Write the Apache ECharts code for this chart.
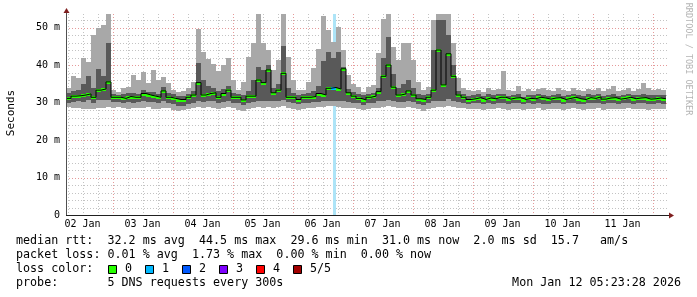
<!DOCTYPE html>
<html><head><meta charset="utf-8">
<script src="https://cdn.jsdelivr.net/npm/echarts@6/dist/echarts.min.js"></script>
<style>html,body{margin:0;padding:0;background:#fff}#c{width:697px;height:297px}</style>
</head><body><div id="c"></div>
<script>
// ---- axis / tick labels ----
const dayLabels = ['02 Jan','03 Jan','04 Jan','05 Jan','06 Jan','07 Jan','08 Jan','09 Jan','10 Jan','11 Jan'];
const dayLabelHours = [12,36,60,84,108,132,156,180,204,228];
const yTicks = [0,10,20,30,40,50];
const startHour = 5.4, stepHours = 2, endHour = 245.4, yMax = 53.6;

// ---- smoke data (ms), one column per 2 hours ----
const hiArr = [34.0,37.2,36.5,41.8,40.9,48.0,50.0,50.7,53.6,33.3,
  32.9,33.8,34.2,37.3,36.0,38.2,35.1,38.7,36.0,36.9,
  35.1,33.3,32.9,33.0,33.8,35.6,49.5,43.5,41.5,40.4,
  38.5,40.0,41.8,36.0,33.3,35.6,42.2,45.8,53.6,45.8,
  44.0,38.7,41.3,53.6,42.2,36.0,33.3,33.3,35.6,39.1,
  44.4,53.0,49.3,46.2,50.2,44.0,37.3,35.0,34.2,32.9,
  34.2,34.7,43.1,52.4,53.6,44.9,41.3,45.8,45.8,41.3,
  35.6,33.3,34.2,52.0,53.6,53.6,53.6,45.8,36.5,33.8,
  33.3,33.0,33.4,32.9,33.8,33.2,33.6,38.4,33.3,33.0,
  34.4,33.1,33.5,33.0,33.6,33.8,33.2,33.0,33.8,33.4,
  33.0,33.8,33.3,33.0,33.6,33.2,33.8,33.1,33.5,34.4,
  33.0,33.4,33.8,33.1,33.5,35.1,34.0,33.2,33.6,33.3];
const dhiArr = [32.5,33.0,33.2,35.0,37.0,34.0,39.0,37.0,46.0,32.3,
  32.0,32.4,32.6,32.6,32.4,33.4,32.8,32.8,32.4,34.2,
  32.6,32.2,31.8,31.8,32.2,33.0,40.5,36.0,34.5,34.0,
  33.0,33.5,34.5,32.6,32.2,32.0,33.0,36.0,39.6,38.7,
  40.0,34.0,35.0,45.0,34.0,32.6,32.0,32.3,32.5,33.0,
  34.5,41.0,43.5,42.0,43.5,39.6,33.6,32.8,32.4,32.0,
  32.4,32.6,34.0,42.0,47.6,37.5,34.0,35.0,36.0,34.0,
  32.4,31.9,32.4,44.0,52.0,52.0,48.0,40.0,33.0,32.4,
  31.8,32.0,32.2,31.7,32.2,32.0,32.3,32.4,31.8,32.0,
  32.2,31.6,32.0,31.9,32.3,32.1,31.8,32.0,32.2,31.7,
  32.0,32.3,31.9,31.7,32.2,32.0,32.4,31.8,32.1,32.3,
  31.8,32.0,32.3,31.9,32.1,32.3,31.9,31.9,32.1,32.0];
const medArr = [31.1,31.7,31.8,32.0,32.3,31.4,33.3,33.6,35.5,31.4,
  31.4,31.1,31.6,31.4,31.4,32.4,32.0,31.7,31.4,33.1,
  31.4,31.1,30.8,30.8,31.4,32.0,35.3,32.0,32.4,32.6,
  31.4,32.4,33.3,31.4,31.4,30.7,31.7,31.7,36.0,35.3,
  38.7,32.6,33.3,37.8,31.4,31.4,30.8,31.4,31.4,31.6,
  32.4,32.0,33.8,34.0,33.6,39.0,32.6,31.7,31.1,30.7,
  31.4,31.7,32.9,37.0,40.0,34.1,32.0,32.3,33.1,32.0,
  31.0,30.8,31.4,33.3,44.0,34.7,43.0,37.0,32.0,31.4,
  30.8,31.0,31.3,30.8,31.2,31.0,31.4,31.4,30.9,31.2,
  31.3,30.8,31.1,31.0,31.4,31.2,30.9,31.2,31.3,30.8,
  31.1,31.4,31.0,30.8,31.3,31.1,31.5,30.9,31.2,31.3,
  30.9,31.1,31.4,31.0,31.2,31.3,30.9,31.0,31.2,31.0];
const dloArr = [30.0,30.2,30.4,30.2,30.6,30.0,30.6,30.6,30.8,30.2,
  30.2,29.9,30.2,30.0,30.1,30.4,30.2,30.1,29.8,30.4,
  30.0,29.5,29.2,29.2,29.7,30.0,30.5,30.2,30.4,30.4,
  30.0,30.2,30.5,30.0,29.8,29.4,30.0,30.2,30.5,30.4,
  30.5,30.3,30.4,30.8,30.1,29.8,29.5,29.8,30.0,30.1,
  30.2,30.3,30.5,30.5,30.5,30.3,30.1,30.0,29.8,29.4,
  29.8,30.0,30.3,30.5,30.8,30.5,30.1,30.2,30.3,30.1,
  29.7,29.4,29.8,30.3,30.5,30.5,31.0,30.5,30.1,30.0,
  29.7,29.8,29.9,29.5,29.9,29.7,30.0,29.9,29.6,29.8,
  29.9,29.5,29.8,29.7,30.0,29.7,29.6,29.9,29.8,29.5,
  29.8,30.0,29.7,29.5,29.9,29.8,30.0,29.6,29.8,29.9,
  29.6,29.8,30.0,29.7,29.8,29.9,29.6,29.7,29.8,29.7];
const loArr = [28.8,28.5,28.6,28.3,28.4,28.2,28.5,28.6,28.8,28.6,
  28.8,28.5,28.4,28.5,28.6,28.5,28.8,28.4,28.2,28.6,
  28.5,28.0,27.8,27.9,28.3,28.6,28.8,28.6,28.8,28.5,
  28.4,28.5,28.8,28.6,28.0,27.8,28.4,28.5,28.8,28.6,
  28.8,28.6,28.8,29.0,28.6,28.2,28.0,28.3,28.6,28.5,
  28.8,28.8,29.0,29.0,28.8,28.6,28.5,28.6,28.4,28.0,
  28.4,28.5,28.6,28.8,29.0,28.8,28.6,28.5,28.8,28.5,
  28.2,27.8,28.3,28.6,28.8,28.8,29.0,28.8,28.6,28.5,
  28.2,28.2,28.4,28.0,28.3,28.4,28.5,28.2,28.1,28.4,
  28.3,28.0,28.4,28.2,28.5,28.1,28.2,28.4,28.3,28.0,
  28.4,28.5,28.2,28.1,28.4,28.3,28.5,28.1,28.4,28.3,
  28.2,28.4,28.5,28.2,28.3,28.4,28.1,28.3,28.4,28.2];
const lossArr = [0,0,0,0,0,0,0,0,0,0, 0,0,0,0,0,0,0,0,0,0, 0,0,0,0,0,0,0,0,0,0,
  0,0,0,0,0,0,0,0,0,0, 0,0,0,0,0,0,0,0,0,0, 0,0,0,1,0,0,0,0,0,0,
  0,0,0,0,0,0,0,0,0,0, 0,0,0,0,0,0,0,0,0,0, 0,0,0,0,0,0,0,0,0,0,
  0,0,0,0,0,0,0,0,0,0, 0,0,0,0,0,0,0,0,0,0, 0,0,0,0,0,0,0,0,0,0];
const lossColors = ['#26ff00','#00b8ff','#0059ff','#7e00ff','#ff0000','#a10000'];
const lossLabels = ['0','1','2','3','4','5/5'];

const MONO = 'DejaVu Sans Mono';
const rows = hiArr.map((h, i) => [startHour + i * stepHours, loArr[i], dloArr[i], medArr[i], dhiArr[i], hiArr[i], lossArr[i]]);
const medLine = rows.map(r => [r[0], r[3]]);
medLine.push([endHour, medArr[medArr.length - 1]]);

// grid line positions derived from the axis ranges
const vGrid = [];
for (let h = 6; h < endHour; h += 6) vGrid.push([h, h % 24 === 0 ? 1 : 0]);
const hGrid = [];
for (let v = 2; v < yMax; v += 2) hGrid.push([v, v % 10 === 0 ? 1 : 0]);
const gridRows = vGrid.map(g => [0, g[0], g[1]]).concat(hGrid.map(g => [1, g[0], g[1]]));

const chart = echarts.init(document.getElementById('c'), null, {renderer: 'canvas'});
const R = Math.round;
chart.setOption({
  backgroundColor: '#ffffff',
  animation: false,
  grid: {left: 66, top: 14, width: 600, height: 201},
  xAxis: {type: 'value', min: startHour, max: endHour,
    axisLine: {show: false}, axisTick: {show: false}, splitLine: {show: false},
    axisLabel: {customValues: dayLabelHours, formatter: v => dayLabels[dayLabelHours.indexOf(v)],
      fontFamily: MONO, fontSize: 10, color: '#000', margin: 4}},
  yAxis: {type: 'value', min: 0, max: yMax,
    axisLine: {show: false}, axisTick: {show: false}, splitLine: {show: false},
    axisLabel: {customValues: yTicks, formatter: v => v === 0 ? '0' : v + ' m',
      fontFamily: MONO, fontSize: 10, color: '#000', margin: 6}},
  series: [
    {type: 'custom', data: gridRows, silent: true, encode: {x: 1, y: 1},
      renderItem: (p, api) => {
        const dir = api.value(0), v = api.value(1), major = api.value(2);
        const stroke = major ? 'rgba(220,120,120,0.75)' : 'rgba(170,170,170,0.7)';
        let shape;
        if (dir === 0) {
          const x = R(api.coord([v, 0])[0]) + 0.5;
          shape = {x1: x, y1: api.coord([v, yMax])[1], x2: x, y2: api.coord([v, 0])[1]};
        } else {
          const y = R(api.coord([startHour, v])[1]) + 0.5;
          shape = {x1: api.coord([startHour, v])[0], y1: y, x2: api.coord([endHour, v])[0] + 2, y2: y};
        }
        return {type: 'line', shape, style: {stroke, lineWidth: 1, lineDash: [1, 2]}};
      }},
    {type: 'custom', data: rows.filter(r => r[6] > 0), silent: true, encode: {x: 0, y: 5},
      renderItem: (p, api) => {
        const t = api.value(0);
        const x0 = R(api.coord([t + 0.8, 0])[0]), x1 = R(api.coord([t + 2, 0])[0]);
        const y0 = api.coord([t, yMax])[1], y1 = api.coord([t, 0])[1];
        return {type: 'rect', shape: {x: x0, y: y0, width: x1 - x0, height: y1 - y0}, style: {fill: '#ade4f7'}};
      }},
    {type: 'custom', data: rows, silent: true, clip: true, encode: {x: 0, y: 5},
      renderItem: (p, api) => {
        const t = api.value(0);
        const x0 = R(api.coord([t, 0])[0]), x1 = R(api.coord([t + stepHours, 0])[0]);
        const yLo = R(api.coord([t, api.value(1)])[1]), yDlo = R(api.coord([t, api.value(2)])[1]);
        const yDhi = R(api.coord([t, api.value(4)])[1]), yHi = R(api.coord([t, Math.min(api.value(5), yMax)])[1]);
        return {type: 'group', children: [
          {type: 'rect', shape: {x: x0, y: yHi, width: x1 - x0, height: yLo - yHi}, style: {fill: '#a8a8a8'}},
          {type: 'rect', shape: {x: x0, y: yDhi, width: x1 - x0, height: yDlo - yDhi}, style: {fill: '#595959'}}
        ]};
      }},
    {type: 'line', data: medLine, step: 'end', symbol: 'none', silent: true,
      lineStyle: {color: '#000000', width: 1}},
    {type: 'custom', data: rows, silent: true, clip: true, encode: {x: 0, y: 3},
      renderItem: (p, api) => {
        const t = api.value(0);
        const x0 = R(api.coord([t, 0])[0]), x1 = R(api.coord([t + stepHours, 0])[0]);
        const y = R(api.coord([t, api.value(3)])[1]);
        return {type: 'rect', shape: {x: x0, y: y - 1, width: x1 - x0, height: 3},
          style: {fill: lossColors[api.value(6)]}};
      }}
  ],
  graphic: [
    {type: 'line', shape: {x1: 66, y1: 215.5, x2: 670, y2: 215.5}, style: {stroke: '#202020', lineWidth: 1}, z: 100},
    {type: 'line', shape: {x1: 66.5, y1: 215, x2: 66.5, y2: 12}, style: {stroke: '#505050', lineWidth: 1}, z: 100},
    {type: 'polygon', shape: {points: [[669, 212.5], [674, 215.5], [669, 218.5]]}, style: {fill: '#7f1f1f'}, z: 101},
    {type: 'polygon', shape: {points: [[63.5, 13], [66.5, 8], [69.5, 13]]}, style: {fill: '#7f1f1f'}, z: 101},
    {type: 'text', x: 11, y: 113, rotation: Math.PI / 2,
      style: {text: 'Seconds', font: '11px "' + MONO + '"', fill: '#000', align: 'center', verticalAlign: 'middle'}},
    {type: 'text', x: 688, y: 59, rotation: -Math.PI / 2,
      style: {text: 'RRDTOOL / TOBI OETIKER', font: '8.5px "' + MONO + '"', fill: '#b4b4b4', align: 'center', verticalAlign: 'middle'}},
    {type: 'text', x: 16, y: 241, style: {text: 'median rtt:  32.2 ms avg  44.5 ms max  29.6 ms min  31.0 ms now  2.0 ms sd  15.7   am/s', font: '11.7px "' + MONO + '"', fill: '#000', verticalAlign: 'middle'}},
    {type: 'text', x: 16, y: 255, style: {text: 'packet loss: 0.01 % avg  1.73 % max  0.00 % min  0.00 % now', font: '11.7px "' + MONO + '"', fill: '#000', verticalAlign: 'middle'}},
    {type: 'text', x: 16, y: 269, style: {text: 'loss color:', font: '11.7px "' + MONO + '"', fill: '#000', verticalAlign: 'middle'}},
    {type: 'text', x: 16, y: 283, style: {text: 'probe:       5 DNS requests every 300s', font: '11.7px "' + MONO + '"', fill: '#000', verticalAlign: 'middle'}},
    {type: 'text', x: 681, y: 283, style: {text: 'Mon Jan 12 05:23:28 2026', font: '11.7px "' + MONO + '"', fill: '#000', align: 'right', verticalAlign: 'middle'}}
  ].concat(lossColors.map((c, i) => ({type: 'group', children: [
    {type: 'rect', shape: {x: 108.5 + 37 * i, y: 265.5, width: 8, height: 8}, style: {fill: c, stroke: '#000', lineWidth: 1}},
    {type: 'text', x: 125 + 37 * i, y: 269, style: {text: lossLabels[i], font: '11.7px "' + MONO + '"', fill: '#000', verticalAlign: 'middle'}}
  ]})))
});
</script></body></html>
